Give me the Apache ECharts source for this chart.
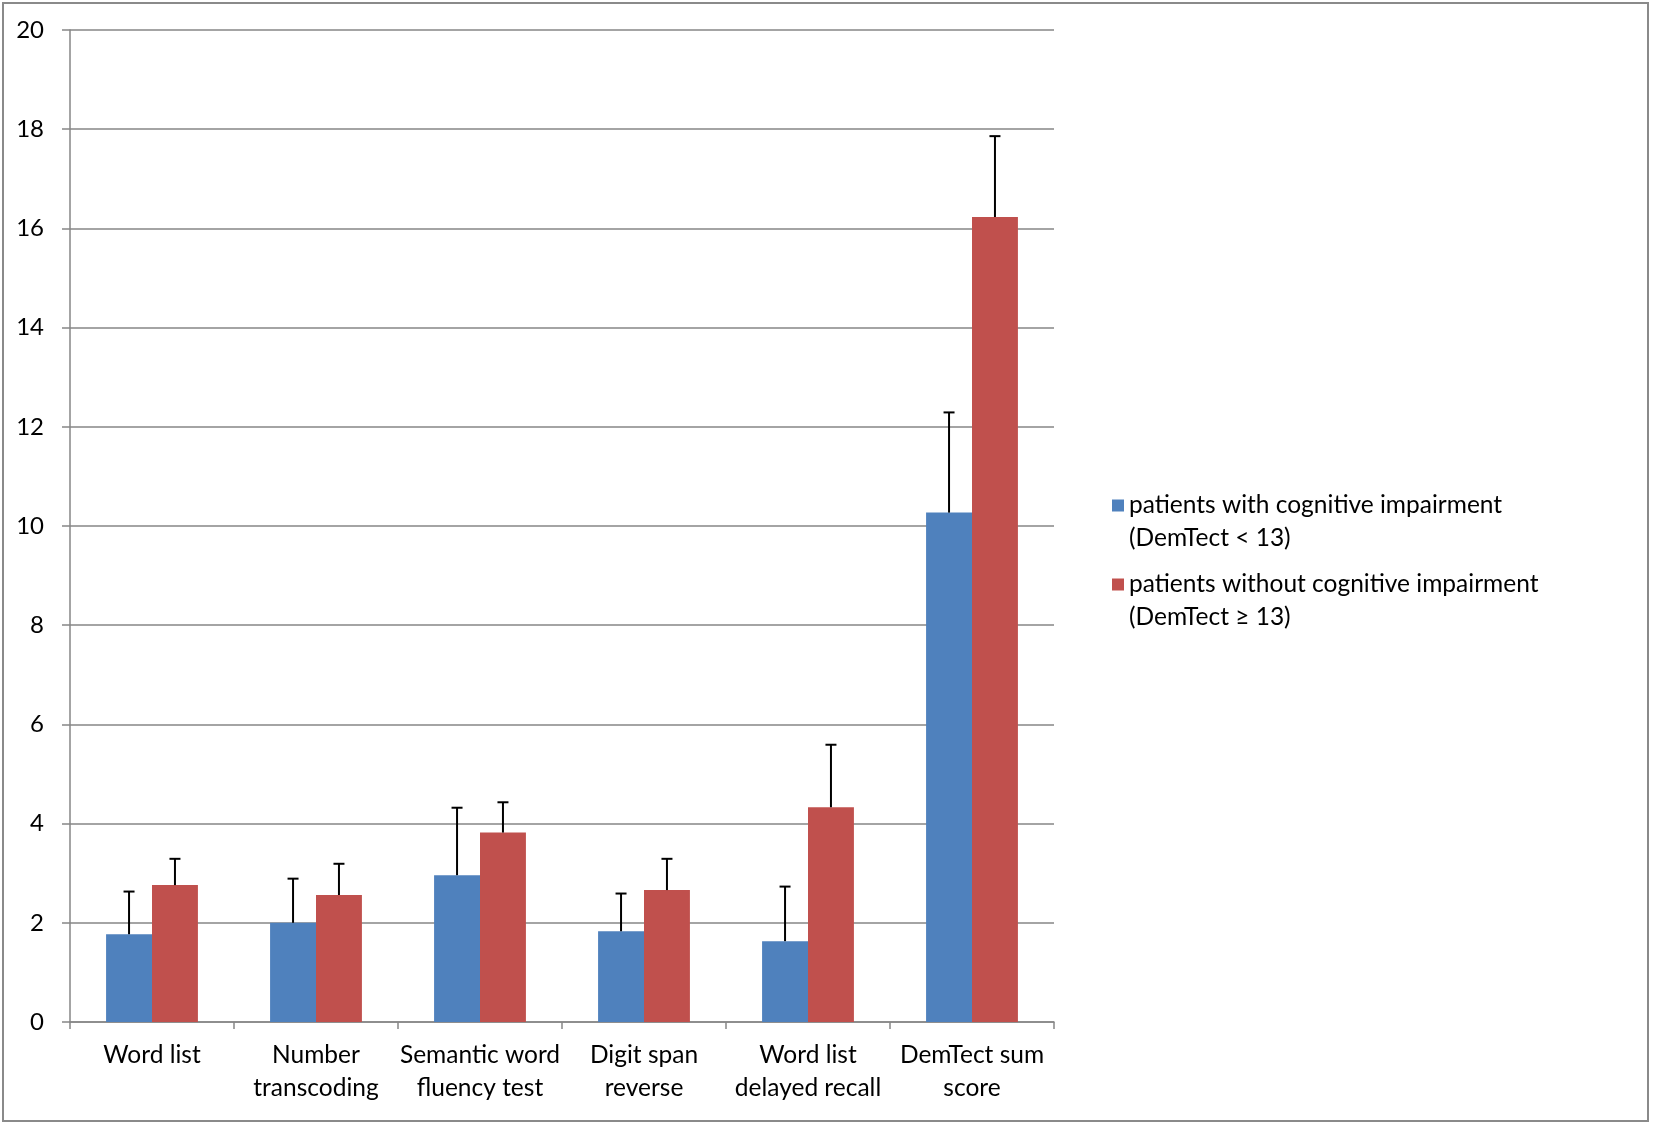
<!DOCTYPE html>
<html>
<head>
<meta charset="utf-8">
<script src="https://cdn.jsdelivr.net/npm/echarts@6/dist/echarts.min.js"></script>
<style>html,body{margin:0;padding:0;background:#fff}#c{width:1654px;height:1124px}</style>
</head>
<body>
<div id="c"></div>
<script>
const categories = ['Word list', 'Number\ntranscoding', 'Semantic word\nfluency test', 'Digit span\nreverse', 'Word list\ndelayed recall', 'DemTect sum\nscore'];
const seriesNames = ['patients with cognitive impairment\n(DemTect < 13)', 'patients without cognitive impairment\n(DemTect \u2265 13)'];
const impairedMean = [1.77, 2.00, 2.96, 1.83, 1.63, 10.27];
const impairedUpper = [2.63, 2.89, 4.32, 2.59, 2.73, 12.29];
const normalMean = [2.76, 2.56, 3.82, 2.66, 4.33, 16.23];
const normalUpper = [3.29, 3.19, 4.43, 3.29, 5.59, 17.86];
const yTicks = {min: 0, max: 20, interval: 2};

const FONT = 'Lato';
const CAT_GAP = 0.44;
const colors = ['#4F81BD', '#C0504D'];

function errData(mean, upper) {
  return mean.map((m, i) => [i, m, upper[i]]);
}
function errSeries(name, mean, upper, side) {
  return {
    type: 'custom',
    name: name + '_err',
    z: 5,
    silent: true,
    data: errData(mean, upper),
    encode: {x: 0, y: [1, 2]},
    renderItem: function (params, api) {
      const base = api.coord([api.value(0), api.value(1)]);
      const top = api.coord([api.value(0), api.value(2)]);
      const band = api.size([1, 0])[0];
      const barW = band * (1 - CAT_GAP) / 2;
      const x = base[0] + side * barW / 2;
      const cap = 5.5;
      const st = {stroke: '#000', lineWidth: 2};
      return {
        type: 'group',
        children: [
          {type: 'line', shape: {x1: x, y1: base[1], x2: x, y2: top[1]}, style: st},
          {type: 'line', shape: {x1: x - cap, y1: top[1], x2: x + cap, y2: top[1]}, style: st}
        ]
      };
    }
  };
}

const chart = echarts.init(document.getElementById('c'));
chart.setOption({
  animation: false,
  backgroundColor: '#fff',
  graphic: [{
    type: 'rect', shape: {x: 3, y: 3, width: 1645, height: 1118},
    style: {fill: 'none', stroke: '#8a8a8a', lineWidth: 2}, z: -1
  }],
  grid: {left: 70, top: 30, width: 984, height: 992, containLabel: false},
  legend: {
    orient: 'vertical',
    left: 1107, top: 484,
    data: seriesNames,
    itemWidth: 12, itemHeight: 66, itemGap: 13,
    icon: 'path://M0,10.5L12,10.5L12,22.5L0,22.5Z M0,0L0,0 M12,66L12,66',
    selectedMode: false,
    textStyle: {fontFamily: FONT, fontSize: 24.5, lineHeight: 33, color: '#000'}
  },
  xAxis: {
    type: 'category',
    data: categories,
    axisLine: {show: true, lineStyle: {color: '#868686', width: 1.5}},
    axisTick: {show: true, length: 7, alignWithLabel: false, lineStyle: {color: '#868686', width: 1.5}},
    axisLabel: {fontFamily: FONT, fontSize: 24.5, lineHeight: 33, color: '#000', margin: 17, interval: 0}
  },
  yAxis: {
    type: 'value',
    min: yTicks.min, max: yTicks.max, interval: yTicks.interval,
    axisLine: {show: true, lineStyle: {color: '#868686', width: 1.5}},
    axisTick: {show: true, length: 8, lineStyle: {color: '#868686', width: 1.5}},
    splitLine: {show: true, lineStyle: {color: '#868686', width: 1.5}},
    axisLabel: {fontFamily: FONT, fontSize: 24, color: '#000', margin: 26}
  },
  series: [
    {type: 'bar', name: seriesNames[0], data: impairedMean, barGap: '0%', barCategoryGap: (CAT_GAP * 100) + '%',
     itemStyle: {color: colors[0]}, z: 2},
    {type: 'bar', name: seriesNames[1], data: normalMean, barGap: '0%', barCategoryGap: (CAT_GAP * 100) + '%',
     itemStyle: {color: colors[1]}, z: 2},
    errSeries('a', impairedMean, impairedUpper, -1),
    errSeries('b', normalMean, normalUpper, 1)
  ]
});
</script>
</body>
</html>
